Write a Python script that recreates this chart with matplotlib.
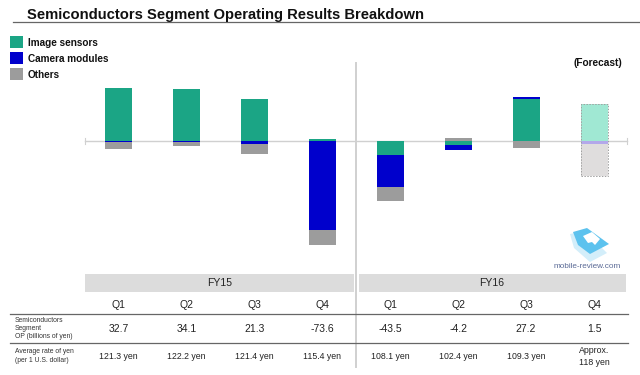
import matplotlib
matplotlib.use("Agg")
import matplotlib.pyplot as plt
from matplotlib.patches import Rectangle, Polygon
import numpy as np

plt.rcParams['font.family'] = ['Liberation Sans', 'DejaVu Sans']

quarters = ['Q1', 'Q2', 'Q3', 'Q4', 'Q1', 'Q2', 'Q3', 'Q4']
# billions of yen
image_sensors = [38.4, 37.6, 30.4, 1.5, -10.4, -3.0, 30.2, 27.0]
camera_modules = [-0.5, -1.0, -2.0, -64.7, -23.0, -3.6, 2.0, -2.0]
others = [-5.2, -2.5, -7.1, -10.4, -10.1, 2.4, -5.0, -23.5]
op_labels = ['32.7', '34.1', '21.3', '-73.6', '-43.5', '-4.2', '27.2', '1.5']
rate_labels = ['121.3 yen', '122.2 yen', '121.4 yen', '115.4 yen',
               '108.1 yen', '102.4 yen', '109.3 yen', 'Approx.\n118 yen']

c_image = '#1ba585'
c_camera = '#0000cc'
c_others = '#9c9c9c'
c_image_f = '#a0e8d3'
c_camera_f = '#b3a8ea'
c_others_f = '#dfdddd'
c_band = '#dcdcdc'
c_line = '#d0d0d0'

fig = plt.figure(figsize=(6.4, 3.75), dpi=100)

# whole-page axes in pixels for the slide furniture
page = fig.add_axes([0, 0, 1, 1])
page.set_xlim(0, 640)
page.set_ylim(375, 0)
page.axis('off')

# bar axes: 1 px = 1/1.38 bn, baseline at y=141
top, bottom = 60, 260
ax = fig.add_axes([0, 1 - bottom / 375, 1, (bottom - top) / 375])
ax.patch.set_alpha(0)
ax.axis('off')
ax.set_ylim((141 - bottom) / 1.38, (141 - top) / 1.38)
x0, dx = 118.7, 67.9
ax.set_xlim(-x0 / dx, (640 - x0) / dx)

x = np.arange(len(quarters))
for i in x:
    pos = 0
    neg = 0
    forecast = i == 7
    for val, col, col_f in zip((image_sensors[i], camera_modules[i], others[i]),
                               (c_image, c_camera, c_others),
                               (c_image_f, c_camera_f, c_others_f)):
        base = pos if val >= 0 else neg
        ax.bar(i, val, width=27 / dx, bottom=base, color=col_f if forecast else col,
               linewidth=0, zorder=3)
        if val >= 0:
            pos += val
        else:
            neg += val
    if forecast:
        ax.bar(i, pos - neg, width=27 / dx, bottom=neg, fill=False, edgecolor='#a0a0a0',
               linewidth=0.7, linestyle=(0, (1.5, 1.5)), zorder=4)

# baseline and divider
page.plot([84.5, 627], [141.3, 141.3], color=c_line, lw=1, zorder=1)
page.plot([84.5, 84.5], [138, 144], color=c_line, lw=0.8)
page.plot([627, 627], [138, 144], color=c_line, lw=0.8)
page.plot([355.8, 355.8], [62.5, 367], color=c_line, lw=1.4)

# title
page.text(27, 14.5, 'Semiconductors Segment Operating Results Breakdown', fontsize=10.6,
          fontweight='bold', color='#111111', va='center', ha='left')
page.plot([13, 640], [21.7, 21.7], color='#666666', lw=0.9)

# legend
for yy, col, name in zip((42, 58, 74), (c_image, c_camera, c_others),
                         ('Image sensors', 'Camera modules', 'Others')):
    page.add_patch(Rectangle((10, yy - 6), 13, 12, color=col, lw=0))
    page.text(28, yy + 0.5, name, fontsize=7.2, fontweight='bold', color='#111111', va='center')

page.text(597.5, 63, '(Forecast)', fontsize=7.3, fontweight='bold', color='#111111',
          va='center', ha='center')

# watermark
page.add_patch(Polygon([[570, 234], [574, 248], [590, 262], [607, 253], [600, 246], [580, 232]],
                       closed=True, color='#d3eefa', lw=0))
page.add_patch(Polygon([[573, 232], [587, 228], [609, 244], [590, 254], [578, 245]],
                       closed=True, color='#5cc2ee', lw=0))
page.add_patch(Polygon([[583, 236], [592, 232], [600, 239], [595, 245], [592, 242], [588, 243]],
                       closed=True, color='white', lw=0))
page.text(587, 266, 'mobile-review.com', fontsize=5.9, color='#5a6a96', va='center', ha='center')

# table
page.add_patch(Rectangle((85, 273.5), 269, 18.5, color=c_band, lw=0))
page.add_patch(Rectangle((358.5, 273.5), 267.5, 18.5, color=c_band, lw=0))
page.text(219.5, 283, 'FY15', fontsize=7.5, color='#222222', ha='center', va='center')
page.text(492, 283, 'FY16', fontsize=7.5, color='#222222', ha='center', va='center')
page.plot([10, 628], [313.5, 313.5], color='#666666', lw=0.9)
page.plot([10, 628], [343, 343], color='#666666', lw=0.9)

for i in x:
    cx = x0 + dx * i
    page.text(cx, 304.5, quarters[i], fontsize=7.5, color='#222222', ha='center', va='center')
    page.text(cx, 329.5, op_labels[i], fontsize=7.5, color='#222222', ha='center', va='center')
    page.text(cx, 356.5, rate_labels[i], fontsize=6.3, color='#222222', ha='center', va='center',
              linespacing=1.35)

page.text(15, 328.5, 'Semiconductors\nSegment\nOP (billions of yen)', fontsize=4.9, color='#333333',
          va='center', ha='left', linespacing=1.3)
page.text(15, 356, 'Average rate of yen\n(per 1 U.S. dollar)', fontsize=4.9, color='#333333',
          va='center', ha='left', linespacing=1.3)

fig.savefig('out.png', dpi=100)
